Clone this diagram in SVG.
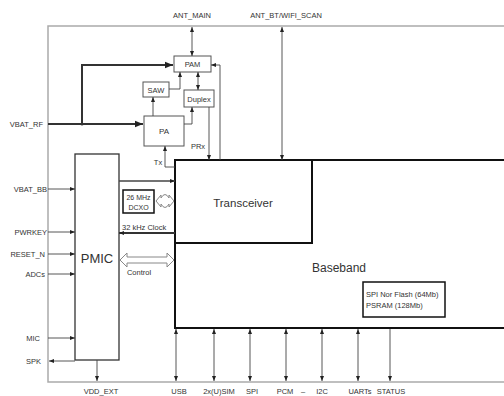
<svg xmlns="http://www.w3.org/2000/svg" width="504" height="396" viewBox="0 0 504 396">
<style>
text{font-family:"Liberation Sans",Arial,sans-serif;fill:#333;font-size:7.5px}
.box{fill:#fff;stroke:#555;stroke-width:1}
.thick{fill:#fff;stroke:#111;stroke-width:2}
.ln{fill:none;stroke:#444;stroke-width:0.9}
.tk{fill:none;stroke:#333;stroke-width:2}
.frame{fill:none;stroke:#aaa;stroke-width:1.5}
.hollow{fill:#fff;stroke:#888;stroke-width:1}
.m{text-anchor:middle}
.e{text-anchor:end}
</style>
<defs>
<marker id="a" viewBox="0 0 10 10" refX="10" refY="5" markerWidth="5" markerHeight="5" markerUnits="userSpaceOnUse" orient="auto-start-reverse"><path d="M0,1 L10,5 L0,9 z" fill="#222"/></marker>
<marker id="b" viewBox="0 0 10 10" refX="10" refY="5" markerWidth="8" markerHeight="8" markerUnits="userSpaceOnUse" orient="auto-start-reverse"><path d="M0,1 L10,5 L0,9 z" fill="#222"/></marker>
</defs>
<rect width="504" height="396" fill="#fff"/>
<rect class="frame" x="48" y="26" width="480" height="356"/>

<g id="baseband">
<rect class="thick" x="175" y="160" width="340" height="168"/>
<text x="339" y="272" class="m" style="font-size:12px">Baseband</text>
</g>
<g id="transceiver">
<rect class="thick" x="175" y="160" width="137" height="83"/>
<text x="243" y="207" class="m" style="font-size:11.5px">Transceiver</text>
</g>
<g id="flash">
<rect class="thick" x="363" y="282" width="82" height="35" style="stroke-width:1.5"/>
<text x="366" y="297">SPI Nor Flash (64Mb)</text>
<text x="366" y="308">PSRAM (128Mb)</text>
</g>
<g id="pmic">
<rect class="box" x="75" y="154" width="44" height="206" style="stroke:#333;stroke-width:1.3"/>
<text x="97" y="263" class="m" style="font-size:13px">PMIC</text>
</g>
<g id="dcxo">
<rect class="thick" x="123" y="190" width="31" height="23" style="stroke-width:1.5"/>
<text x="138.5" y="200" class="m" style="font-size:7px">26 MHz</text>
<text x="138.5" y="210" class="m" style="font-size:7px">DCXO</text>
</g>
<g id="pam">
<rect class="box" x="174" y="56" width="37" height="16"/>
<text x="192.5" y="67" class="m">PAM</text>
</g>
<g id="saw">
<rect class="box" x="143" y="82" width="26" height="15"/>
<text x="156" y="92.5" class="m">SAW</text>
</g>
<g id="duplex">
<rect class="box" x="184" y="90" width="30" height="17"/>
<text x="199" y="101.5" class="m">Duplex</text>
</g>
<g id="pa">
<rect class="box" x="144" y="116" width="40" height="30"/>
<text x="164" y="134" class="m" style="font-size:8px">PA</text>
</g>

<g id="connectors">
<line class="ln" x1="192" y1="27" x2="192" y2="56" marker-start="url(#a)" marker-end="url(#a)"/>
<line class="ln" x1="282" y1="27" x2="282" y2="160" marker-start="url(#a)" marker-end="url(#a)"/>
<polyline class="tk" points="82,124 82,65 173,65" marker-end="url(#b)"/>
<line class="tk" x1="48" y1="124" x2="143" y2="124" marker-end="url(#b)"/>
<circle cx="82" cy="124" r="1.5" fill="#333"/>
<polyline class="ln" points="169,89 180,89 180,72" marker-end="url(#a)"/>
<line class="ln" x1="198" y1="72" x2="198" y2="90" marker-start="url(#a)" marker-end="url(#a)"/>
<polyline class="ln" points="220,160 220,65 211,65" marker-end="url(#a)"/>
<line class="ln" x1="153" y1="116" x2="153" y2="97" marker-end="url(#a)"/>
<polyline class="ln" points="184,124 192,124 192,107" marker-end="url(#a)"/>
<line class="ln" x1="209" y1="107" x2="209" y2="160" marker-end="url(#a)"/>
<polyline class="ln" points="175,167 165,167 165,146" marker-end="url(#a)"/>
<line class="ln" x1="119" y1="181" x2="175" y2="181" marker-end="url(#a)" style="stroke-width:1.3"/>
<line class="tk" x1="175" y1="233" x2="119" y2="233" marker-end="url(#a)"/>
<path class="hollow" d="M156,201 L161,195 L161,198 Q165,191 169,198 L169,195 L174,201 L169,207 L169,204 Q165,211 161,204 L161,207 Z"/>
<path class="hollow" d="M120,260 L127,253 L127,257 L167,257 L167,253 L174,260 L167,267 L167,263 L127,263 L127,267 Z"/>
<line class="ln" x1="48" y1="189" x2="75" y2="189" marker-end="url(#a)"/>
<line class="ln" x1="48" y1="232" x2="75" y2="232" marker-end="url(#a)"/>
<line class="ln" x1="48" y1="254" x2="75" y2="254" marker-end="url(#a)"/>
<line class="ln" x1="48" y1="274" x2="75" y2="274" marker-end="url(#a)"/>
<line class="ln" x1="48" y1="338" x2="75" y2="338" marker-end="url(#a)"/>
<line class="ln" x1="75" y1="361" x2="49" y2="361" marker-end="url(#a)"/>
<line class="ln" x1="97" y1="360" x2="97" y2="381" marker-end="url(#a)"/>
<line class="ln" x1="176" y1="329" x2="176" y2="381" marker-start="url(#a)" marker-end="url(#a)"/>
<line class="ln" x1="214" y1="329" x2="214" y2="381" marker-start="url(#a)" marker-end="url(#a)"/>
<line class="ln" x1="250" y1="329" x2="250" y2="381" marker-start="url(#a)" marker-end="url(#a)"/>
<line class="ln" x1="286" y1="329" x2="286" y2="381" marker-start="url(#a)" marker-end="url(#a)"/>
<line class="ln" x1="322" y1="329" x2="322" y2="381" marker-start="url(#a)" marker-end="url(#a)"/>
<line class="ln" x1="358" y1="329" x2="358" y2="381" marker-start="url(#a)" marker-end="url(#a)"/>
<line class="ln" x1="390" y1="329" x2="390" y2="381" marker-end="url(#a)"/>
</g>

<g id="labels">
<text x="192" y="18" class="m">ANT_MAIN</text>
<text x="286" y="18" class="m">ANT_BT/WIFI_SCAN</text>
<text x="43" y="127" class="e">VBAT_RF</text>
<text x="47" y="192" class="e">VBAT_BB</text>
<text x="47" y="235" class="e">PWRKEY</text>
<text x="45" y="257" class="e">RESET_N</text>
<text x="45" y="277" class="e">ADCs</text>
<text x="40" y="341" class="e">MIC</text>
<text x="41" y="364" class="e">SPK</text>
<text x="101" y="394" class="m">VDD_EXT</text>
<text x="158" y="165" class="m">Tx</text>
<text x="198" y="149" class="m">PRx</text>
<text x="122" y="230">32 kHz Clock</text>
<text x="139" y="275" class="m">Control</text>
<text x="179" y="394" class="m">USB</text>
<text x="219" y="394" class="m">2x(U)SIM</text>
<text x="252" y="394" class="m">SPI</text>
<text x="285" y="394" class="m">PCM</text>
<text x="303" y="394" class="m">–</text>
<text x="322" y="394" class="m">I2C</text>
<text x="360" y="394" class="m">UARTs</text>
<text x="391" y="394" class="m">STATUS</text>
</g>
</svg>
